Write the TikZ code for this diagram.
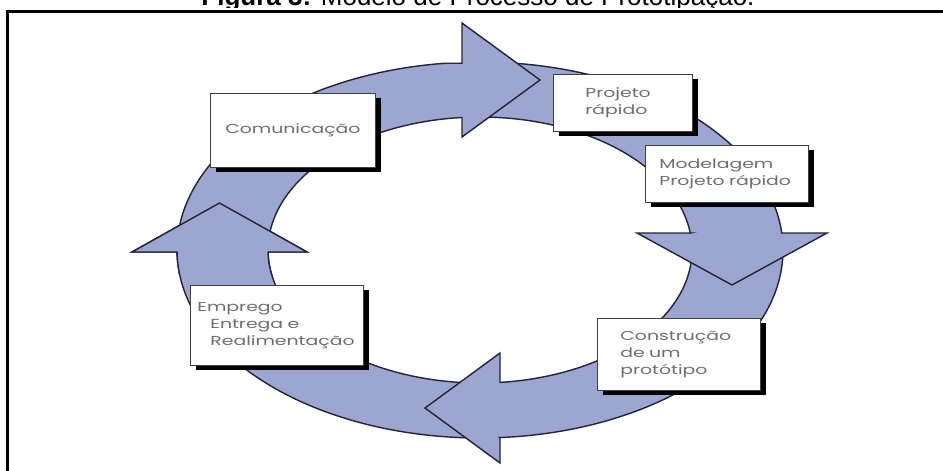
\documentclass[tikz,border=0pt]{standalone}
\usepackage{fontspec}
\setmainfont{Liberation Sans}
\newfontfamily\boxfont[FakeStretch=1.45]{Poppins}
\usetikzlibrary{shadows}
\definecolor{band}{HTML}{9CA6D0}
\definecolor{edge}{HTML}{23233A}
\definecolor{boxtext}{HTML}{6E6E6E}
\tikzset{
  seg/.style={fill=band, draw=edge, line width=1.4pt, line join=miter},
  stage/.style={draw=black!75, line width=0.8pt, fill=white,
    general shadow={fill=black, shadow xshift=6pt, shadow yshift=-5pt},
    anchor=north west, font=\boxfont\fontsize{13}{17}\selectfont,
    text=boxtext, align=left, inner ysep=0pt},
  frameline/.style={line width=3pt, draw=black},
}
\begin{document}
\begin{tikzpicture}[x=1pt,y=-1pt]
\useasboundingbox (0,0) rectangle (943,471);
\clip (0,0) rectangle (943,471);
% title (cut by the top of the picture)
\node[anchor=base, inner sep=0pt, font=\fontsize{26}{30}\selectfont] (title) at (478,5.5)
  {\textbf{Figura 3:} Modelo de Processo de Prototipação.};
% frame
\fill[white] (0,8) rectangle (943,471);
\draw[frameline] (7,480) -- (7,11) -- (950,11);
% S4: bottom -> up arrow (left)
\path[seg] plot[domain=92:179.39, samples=60, variable=\t] ({480+303*cos(\t)},{250+188*sin(\t)})
  -- (177,252) -- (132,252) -- (219.5,203) -- (307,252) -- (268,252)
  -- plot[domain=179.14:92, samples=60, variable=\t] ({480+212*cos(\t)},{250+133*sin(\t)}) -- cycle;
% S3: right -> bottom arrow (pointing left)
\path[seg] plot[domain=0:86.22, samples=60, variable=\t] ({480+303*cos(\t)},{250+188*sin(\t)})
  -- (500,437.6) -- (500,463) -- (425,408) -- (500,353) -- (500,382.4)
  -- plot[domain=84.59:0, samples=60, variable=\t] ({480+212*cos(\t)},{250+133*sin(\t)}) -- cycle;
% S2: top -> down arrow (right)
\path[seg] plot[domain=271:354.8, samples=60, variable=\t] ({480+303*cos(\t)},{250+188*sin(\t)})
  -- (781.8,233) -- (827,233) -- (732,285) -- (637,233) -- (690.3,233)
  -- plot[domain=352.66:271, samples=60, variable=\t] ({480+212*cos(\t)},{250+133*sin(\t)}) -- cycle;
% S1: left -> top arrow (pointing right)
\path[seg] plot[domain=185:263.4, samples=60, variable=\t] ({480+303*cos(\t)},{250+188*sin(\t)})
  -- (462,63.2) -- (462,23) -- (540,80) -- (462,137) -- (462,117.5)
  -- plot[domain=265.1:185, samples=60, variable=\t] ({480+212*cos(\t)},{250+133*sin(\t)}) -- cycle;
% redraw the head of S4 over the start of S1
\begin{scope}
\clip (100,180) rectangle (340,275);
\path[seg] plot[domain=92:179.39, samples=60, variable=\t] ({480+303*cos(\t)},{250+188*sin(\t)})
  -- (177,252) -- (132,252) -- (219.5,203) -- (307,252) -- (268,252)
  -- plot[domain=179.14:92, samples=60, variable=\t] ({480+212*cos(\t)},{250+133*sin(\t)}) -- cycle;
\end{scope}
% boxes
\node[stage, minimum width=165pt, minimum height=74pt, inner xsep=0pt, align=center] (comm) at (210,93) {Comunicação};
\node[stage, text width=75pt, inner xsep=32pt, minimum height=57pt] (proj) at (553,74) {Projeto\\rápido};
\node[stage, text width=135pt, inner xsep=14pt, minimum height=57pt] (model) at (645,145) {Modelagem\\Projeto rápido};
\node[stage, text width=117pt, inner xsep=23pt, minimum height=72pt] (constr) at (597,318) {Construção\\de um\\protótipo};
\node[stage, text width=159pt, inner xsep=7pt, minimum height=80pt] (emp) at (190,285) {Emprego\\\hspace*{13pt}Entrega e\\\hspace*{13pt}Realimentação};
\end{tikzpicture}
\end{document}
